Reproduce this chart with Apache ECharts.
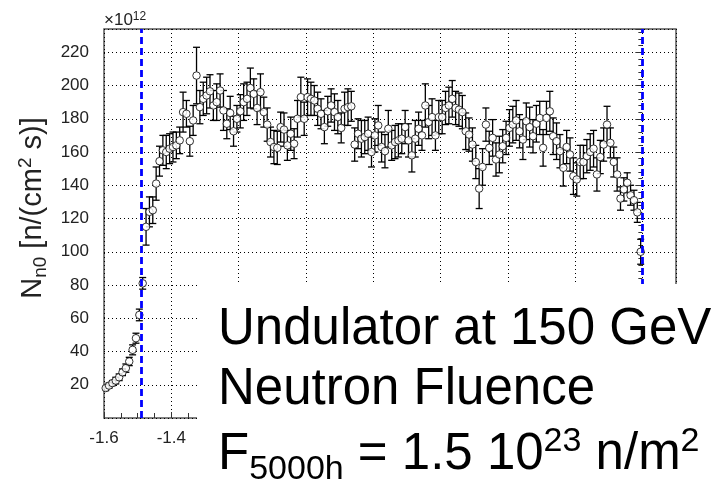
<!DOCTYPE html>
<html><head><meta charset="utf-8">
<script src="https://cdn.jsdelivr.net/npm/echarts@6/dist/echarts.min.js"></script>
<style>html,body{margin:0;padding:0;background:#fff}#c{width:722px;height:485px}</style>
</head><body><div id="c"></div>
<script>
// bin centres along z [m]
const binCenters = [
-1.595,-1.585,-1.575,-1.565,-1.555,-1.545,-1.535,-1.525,-1.515,-1.505,
-1.495,-1.485,-1.475,-1.465,-1.455,-1.445,-1.435,-1.425,-1.415,-1.405,
-1.395,-1.385,-1.375,-1.365,-1.355,-1.345,-1.335,-1.325,-1.315,-1.305,
-1.295,-1.285,-1.275,-1.265,-1.255,-1.245,-1.235,-1.225,-1.215,-1.205,
-1.195,-1.185,-1.175,-1.165,-1.155,-1.145,-1.135,-1.125,-1.115,-1.105,
-1.095,-1.085,-1.075,-1.065,-1.055,-1.045,-1.035,-1.025,-1.015,-1.005,
-0.995,-0.985,-0.975,-0.965,-0.955,-0.945,-0.935,-0.925,-0.915,-0.905,
-0.895,-0.885,-0.875,-0.865,-0.855,-0.845,-0.835,-0.825,-0.815,-0.805,
-0.795,-0.785,-0.775,-0.765,-0.755,-0.745,-0.735,-0.725,-0.715,-0.705,
-0.695,-0.685,-0.675,-0.665,-0.655,-0.645,-0.635,-0.625,-0.615,-0.605,
-0.595,-0.585,-0.575,-0.565,-0.555,-0.545,-0.535,-0.525,-0.515,-0.505,
-0.495,-0.485,-0.475,-0.465,-0.455,-0.445,-0.435,-0.425,-0.415,-0.405,
-0.395,-0.385,-0.375,-0.365,-0.355,-0.345,-0.335,-0.325,-0.315,-0.305,
-0.295,-0.285,-0.275,-0.265,-0.255,-0.245,-0.235,-0.225,-0.215,-0.205,
-0.195,-0.185,-0.175,-0.165,-0.155,-0.145,-0.135,-0.125,-0.115,-0.105,
-0.095,-0.085,-0.075,-0.065,-0.055,-0.045,-0.035,-0.025,-0.015,-0.005
];
// N_n0 in units of 1e12 n/(cm^2 s)
const flux = [
18,19.5,21,22.5,24.5,27.5,30,34,41,48,
62,81,115,124,125,141,154.5,161,160,162,
163,164,167,184,183,166.5,179,206,187,192,
194,196.5,188,190,197,185,177,183.5,172.5,180,
184.5,190,192,198.5,195,186.5,196,184,176.5,166,
163,162.5,175,173.5,164,171,165,180,193,180,
193,192,191,186,183,175,184.5,188,184,181,
174.5,186,187,187.5,164.5,171,168,169,171,160,
170,176,163,160.5,174,164,166,167,168,175,
167,158,168,174,170,188,178,181,170,181,
181,186.5,188,192,186.5,185.5,184,172.5,170.5,164.5,
154,138,151,176.5,162.5,168.5,155.5,158.5,163.5,168.5,
174.5,176.5,179,172.5,167.5,178.5,175,169.5,177,180.5,
162.5,180.5,184.5,169.5,166.5,160.5,150.5,163,158.5,145.5,
143.5,154,154,157.5,160,162,146.5,157,164.5,176.5,
165.5,154,146.5,132,137.5,141.5,134,131,123.7,100
];
const fluxErr = [
1.5,1.5,1.5,2,2,2,2.5,2.5,3,3,
3.5,3.5,11,9,8,10,9,9,10,9,
9,8,8,12,8,9,9,17,10,10,
11,10,9,11,10,12,9,10,9,8,
10,11,10,12,9,10,11,9,10,9,
10,10,9,10,9,10,9,11,12,10,
11,10,9,10,9,10,9,10,11,10,
9,10,11,9,10,9,11,10,10,9,
10,12,9,10,11,9,10,10,9,10,
10,10,11,10,9,13,10,11,9,10,
10,10,11,11,10,10,10,11,10,10,
10,12,11,10,10,11,10,11,10,10,
11,11,12,10,12,11,12,10,11,10,
11,10,12,11,11,10,11,10,10,11,
10,10,10,10,11,11,10,10,10,11,
9,9,10,7,7,6,6,6,6,7.5
];
const boundaryLines = [-1.485, 0.0];
const xRange = [-1.6, 0.1];
const yRange = [0, 234];

const FONT = '"Liberation Sans", Arial, Helvetica, sans-serif';
const points = binCenters.map((x, i) => [x, flux[i], fluxErr[i]]);

const chart = echarts.init(document.getElementById('c'), null, {renderer: 'canvas'});
chart.setOption({
  animation: false,
  textStyle: {fontFamily: FONT},
  grid: {left: 104, right: 46, top: 29, bottom: 67, show: true,
         borderColor: '#555', borderWidth: 1.5, backgroundColor: 'transparent'},
  xAxis: {
    type: 'value', min: xRange[0], max: xRange[1], interval: 0.2,
    axisLine: {show: false},
    axisTick: {show: true, inside: true, length: 6, lineStyle: {color: '#333'}},
    minorTick: {show: true, splitNumber: 4, length: 5, lineStyle: {color: '#333'}},
    splitLine: {show: true, lineStyle: {color: '#000', width: 1, type: [1, 3]}},
    axisLabel: {color: '#222', fontSize: 17, fontFamily: FONT, margin: 12,
      formatter: v => (Math.abs(v * 5 - Math.round(v * 5)) < 1e-6 ? v.toFixed(1) : '')}
  },
  yAxis: {
    type: 'value', min: yRange[0], max: yRange[1], interval: 20,
    axisLine: {show: false},
    axisTick: {show: true, inside: false, length: 7, lineStyle: {color: '#333'}},
    minorTick: {show: true, splitNumber: 5, length: 4, lineStyle: {color: '#333'}},
    splitLine: {show: true, lineStyle: {color: '#000', width: 1, type: [1, 3]}},
    axisLabel: {color: '#222', fontSize: 17, fontFamily: FONT, margin: 15,
      formatter: v => (v > 0 && v % 20 === 0 ? String(v) : '')}
  },
  series: [
    {
      type: 'custom', data: points, silent: true, z: 3, clip: true,
      encode: {x: 0, y: 1},
      renderItem: function (params, api) {
        const x = api.value(0), y = api.value(1), e = api.value(2);
        const c = api.coord([x, y]);
        const t = api.coord([x, y + e]);
        const b = api.coord([x, y - e]);
        const r = 3.8, w = 3.5;
        const st = {stroke: '#000', lineWidth: 1.3};
        const ch = [];
        if (c[1] - r > t[1]) ch.push({type: 'line', shape: {x1: c[0], y1: t[1], x2: c[0], y2: c[1] - r}, style: st});
        if (b[1] > c[1] + r) ch.push({type: 'line', shape: {x1: c[0], y1: c[1] + r, x2: c[0], y2: b[1]}, style: st});
        ch.push({type: 'line', shape: {x1: c[0] - w, y1: t[1], x2: c[0] + w, y2: t[1]}, style: st});
        ch.push({type: 'line', shape: {x1: c[0] - w, y1: b[1], x2: c[0] + w, y2: b[1]}, style: st});
        return {type: 'group', children: ch};
      }
    },
    {
      type: 'scatter', data: points, encode: {x: 0, y: 1}, z: 4,
      symbol: 'circle', symbolSize: 7.5,
      itemStyle: {color: '#fff', borderColor: '#000', borderWidth: 1},
      markLine: {
        silent: true, symbol: ['none', 'none'], label: {show: false}, z: 5,
        lineStyle: {color: '#0000ff', type: [7, 4], width: 2.8},
        data: boundaryLines.map(v => ({xAxis: v}))
      }
    }
  ],
  graphic: [
    {type: 'rect', z: 100, shape: {x: 197, y: 284, width: 530, height: 205},
     style: {fill: '#fff'}},
    {type: 'text', z: 101, x: 104, y: 20,
     style: {text: '{a|×10}{b|12}', align: 'left', verticalAlign: 'middle',
       rich: {a: {fontSize: 17, fontFamily: FONT, fill: '#222', lineHeight: 19},
              b: {fontSize: 12, fontFamily: FONT, fill: '#222', lineHeight: 12, verticalAlign: 'top'}}}},
    {type: 'text', z: 101, x: 33, y: 208, rotation: Math.PI / 2,
     style: {text: '{m|N}{s|n0}{m| [n/(cm}{p|2}{m| s)]}', align: 'center', verticalAlign: 'middle',
       rich: {m: {fontSize: 29, fontFamily: FONT, fill: '#222', lineHeight: 34},
              s: {fontSize: 19, fontFamily: FONT, fill: '#222', lineHeight: 18, verticalAlign: 'bottom'},
              p: {fontSize: 19, fontFamily: FONT, fill: '#222', lineHeight: 22, verticalAlign: 'top'}}}},
    {type: 'text', z: 101, x: 218, y: 330.4,
     style: {text: 'Undulator at 150 GeV', fontSize: 51, fontFamily: FONT, fill: '#000',
             align: 'left', verticalAlign: 'middle'}},
    {type: 'text', z: 101, x: 218, y: 390.4,
     style: {text: 'Neutron Fluence', fontSize: 51, fontFamily: FONT, fill: '#000',
             align: 'left', verticalAlign: 'middle'}},
    {type: 'text', z: 101, x: 218, y: 455.4,
     style: {text: '{m|F}{s|5000h}{m| = 1.5 10}{p|23}{m| n/m}{p|2}', align: 'left', verticalAlign: 'middle',
       rich: {m: {fontSize: 51, fontFamily: FONT, fill: '#000', lineHeight: 62},
              s: {fontSize: 34, fontFamily: FONT, fill: '#000', lineHeight: 28, verticalAlign: 'bottom'},
              p: {fontSize: 34, fontFamily: FONT, fill: '#000', lineHeight: 39, verticalAlign: 'top'}}}}
  ]
});
</script>
</body></html>
